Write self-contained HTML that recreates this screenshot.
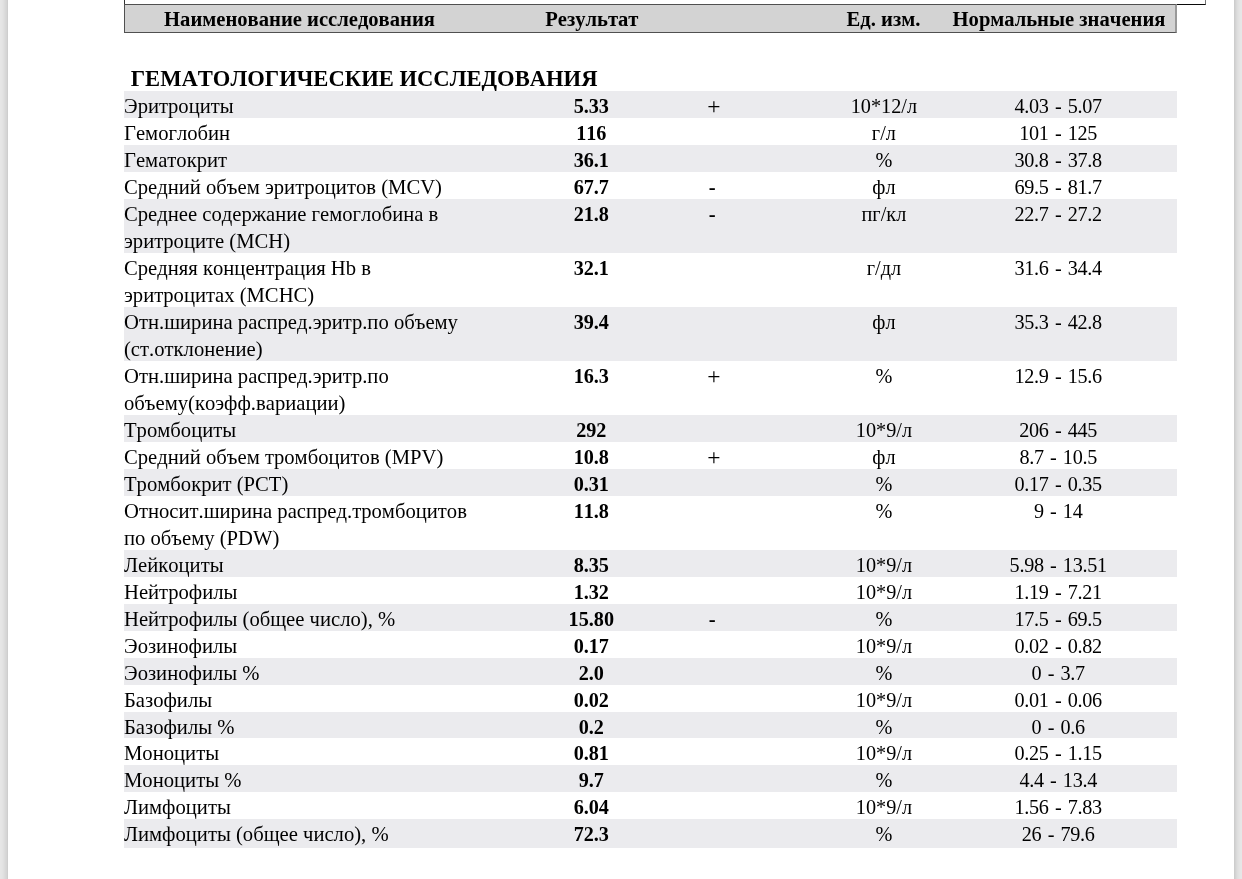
<!DOCTYPE html>
<html lang="ru"><head><meta charset="utf-8"><title>Результаты исследований</title><style>
html,body{margin:0;padding:0;}
body{width:1242px;height:879px;overflow:hidden;background:#fff;position:relative;font-family:"Liberation Serif",serif;color:#000;font-kerning:none;font-size:20.65px;line-height:24px;}
.edge-l{position:absolute;left:0;top:0;width:8px;height:879px;background:linear-gradient(to right,#e6e6e6 0px 1px,#e5e5e5 1px 2px,#e3e3e3 2px 3px,#e0e0e0 3px 4px,#dcdcdc 4px 5px,#d8d8d8 5px 6px,#d5d5d5 6px 7px,#cecece 7px 8px);}
.edge-r{position:absolute;left:1234px;top:0;width:8px;height:879px;background:linear-gradient(to right,#cdcdcd 0px 1px,#d3d3d3 1px 2px,#d9d9d9 2px 3px,#dedede 3px 4px,#e1e1e1 4px 5px,#e4e4e4 5px 6px,#e6e6e6 6px 7px,#e7e7e7 7px 8px);}
.prev{position:absolute;left:124px;top:-10px;width:1080px;height:14px;border-left:1px solid #333;border-right:1px solid #777;border-bottom:1px solid #0a0a0a;background:#fff;}
.thead{position:absolute;left:124px;top:4px;width:1050px;height:27px;border:1px solid #505050;border-right:2px solid #999;background:#d3d3d3;font-weight:bold;font-size:20.6px;}
.thead span{position:absolute;top:2px;white-space:nowrap;transform:translateX(-50%);}
h2{position:absolute;margin:0;left:130.7px;top:67px;font-size:22.6px;line-height:24px;font-weight:bold;white-space:nowrap;}
.row{position:absolute;left:124px;width:1053px;}
.row.s{background:#ebebee;}
.row span{position:absolute;white-space:nowrap;}
.n{left:0px;}
.r,.p,.m,.u,.v{transform:translateX(-50%);}
.r{left:467.3px;font-weight:bold;font-size:20.2px;}
.p{left:589.8px;font-size:23.5px;}
.m{left:588.2px;font-weight:bold;}
.u{left:759.9px;font-size:20.25px;}
.v{left:934.2px;font-size:20.2px;letter-spacing:-0.3px;word-spacing:1.6px;}
</style></head><body>
<div class="edge-l"></div><div class="edge-r"></div>
<div class="prev"></div>
<div class="thead"><span style="left:174.5px">Наименование исследования</span><span style="left:466.8px">Результат</span><span style="left:758.5px">Ед. изм.</span><span style="left:934.0px">Нормальные значения</span></div>
<h2>ГЕМАТОЛОГИЧЕСКИЕ ИССЛЕДОВАНИЯ</h2>
<div class="row s" style="top:91px;height:27px"><span class="n" style="top:3px">Эритроциты</span><span class="r" style="top:3px">5.33</span><span class="p" style="top:3px">+</span><span class="u" style="top:3px">10*12/л</span><span class="v" style="top:3px">4.03 - 5.07</span></div>
<div class="row" style="top:118px;height:27px"><span class="n" style="top:3px">Гемоглобин</span><span class="r" style="top:3px">116</span><span class="u" style="top:3px">г/л</span><span class="v" style="top:3px">101 - 125</span></div>
<div class="row s" style="top:145px;height:27px"><span class="n" style="top:3px">Гематокрит</span><span class="r" style="top:3px">36.1</span><span class="u" style="top:3px">%</span><span class="v" style="top:3px">30.8 - 37.8</span></div>
<div class="row" style="top:172px;height:27px"><span class="n" style="top:3px">Средний объем эритроцитов (MCV)</span><span class="r" style="top:3px">67.7</span><span class="m" style="top:3px">-</span><span class="u" style="top:3px">фл</span><span class="v" style="top:3px">69.5 - 81.7</span></div>
<div class="row s" style="top:199px;height:54px"><span class="n" style="top:3px">Среднее содержание гемоглобина в</span><span class="n" style="top:30px">эритроците (MCH)</span><span class="r" style="top:3px">21.8</span><span class="m" style="top:3px">-</span><span class="u" style="top:3px">пг/кл</span><span class="v" style="top:3px">22.7 - 27.2</span></div>
<div class="row" style="top:253px;height:54px"><span class="n" style="top:3px">Средняя концентрация Hb в</span><span class="n" style="top:30px">эритроцитах (MCHC)</span><span class="r" style="top:3px">32.1</span><span class="u" style="top:3px">г/дл</span><span class="v" style="top:3px">31.6 - 34.4</span></div>
<div class="row s" style="top:307px;height:54px"><span class="n" style="top:3px">Отн.ширина распред.эритр.по объему</span><span class="n" style="top:30px">(ст.отклонение)</span><span class="r" style="top:3px">39.4</span><span class="u" style="top:3px">фл</span><span class="v" style="top:3px">35.3 - 42.8</span></div>
<div class="row" style="top:361px;height:54px"><span class="n" style="top:3px">Отн.ширина распред.эритр.по</span><span class="n" style="top:30px">объему(коэфф.вариации)</span><span class="r" style="top:3px">16.3</span><span class="p" style="top:3px">+</span><span class="u" style="top:3px">%</span><span class="v" style="top:3px">12.9 - 15.6</span></div>
<div class="row s" style="top:415px;height:27px"><span class="n" style="top:3px">Тромбоциты</span><span class="r" style="top:3px">292</span><span class="u" style="top:3px">10*9/л</span><span class="v" style="top:3px">206 - 445</span></div>
<div class="row" style="top:442px;height:27px"><span class="n" style="top:3px">Средний объем тромбоцитов (MPV)</span><span class="r" style="top:3px">10.8</span><span class="p" style="top:3px">+</span><span class="u" style="top:3px">фл</span><span class="v" style="top:3px">8.7 - 10.5</span></div>
<div class="row s" style="top:469px;height:27px"><span class="n" style="top:3px">Тромбокрит (PCT)</span><span class="r" style="top:3px">0.31</span><span class="u" style="top:3px">%</span><span class="v" style="top:3px">0.17 - 0.35</span></div>
<div class="row" style="top:496px;height:54px"><span class="n" style="top:3px">Относит.ширина распред.тромбоцитов</span><span class="n" style="top:30px">по объему (PDW)</span><span class="r" style="top:3px">11.8</span><span class="u" style="top:3px">%</span><span class="v" style="top:3px">9 - 14</span></div>
<div class="row s" style="top:550px;height:27px"><span class="n" style="top:3px">Лейкоциты</span><span class="r" style="top:3px">8.35</span><span class="u" style="top:3px">10*9/л</span><span class="v" style="top:3px">5.98 - 13.51</span></div>
<div class="row" style="top:577px;height:27px"><span class="n" style="top:3px">Нейтрофилы</span><span class="r" style="top:3px">1.32</span><span class="u" style="top:3px">10*9/л</span><span class="v" style="top:3px">1.19 - 7.21</span></div>
<div class="row s" style="top:604px;height:27px"><span class="n" style="top:3px">Нейтрофилы (общее число), %</span><span class="r" style="top:3px">15.80</span><span class="m" style="top:3px">-</span><span class="u" style="top:3px">%</span><span class="v" style="top:3px">17.5 - 69.5</span></div>
<div class="row" style="top:631px;height:27px"><span class="n" style="top:3px">Эозинофилы</span><span class="r" style="top:3px">0.17</span><span class="u" style="top:3px">10*9/л</span><span class="v" style="top:3px">0.02 - 0.82</span></div>
<div class="row s" style="top:658px;height:27px"><span class="n" style="top:3px">Эозинофилы %</span><span class="r" style="top:3px">2.0</span><span class="u" style="top:3px">%</span><span class="v" style="top:3px">0 - 3.7</span></div>
<div class="row" style="top:685px;height:27px"><span class="n" style="top:3px">Базофилы</span><span class="r" style="top:3px">0.02</span><span class="u" style="top:3px">10*9/л</span><span class="v" style="top:3px">0.01 - 0.06</span></div>
<div class="row s" style="top:712px;height:26px"><span class="n" style="top:3px">Базофилы %</span><span class="r" style="top:3px">0.2</span><span class="u" style="top:3px">%</span><span class="v" style="top:3px">0 - 0.6</span></div>
<div class="row" style="top:738px;height:27px"><span class="n" style="top:3px">Моноциты</span><span class="r" style="top:3px">0.81</span><span class="u" style="top:3px">10*9/л</span><span class="v" style="top:3px">0.25 - 1.15</span></div>
<div class="row s" style="top:765px;height:27px"><span class="n" style="top:3px">Моноциты %</span><span class="r" style="top:3px">9.7</span><span class="u" style="top:3px">%</span><span class="v" style="top:3px">4.4 - 13.4</span></div>
<div class="row" style="top:792px;height:27px"><span class="n" style="top:3px">Лимфоциты</span><span class="r" style="top:3px">6.04</span><span class="u" style="top:3px">10*9/л</span><span class="v" style="top:3px">1.56 - 7.83</span></div>
<div class="row s" style="top:819px;height:29px"><span class="n" style="top:3px">Лимфоциты (общее число), %</span><span class="r" style="top:3px">72.3</span><span class="u" style="top:3px">%</span><span class="v" style="top:3px">26 - 79.6</span></div>
</body></html>
